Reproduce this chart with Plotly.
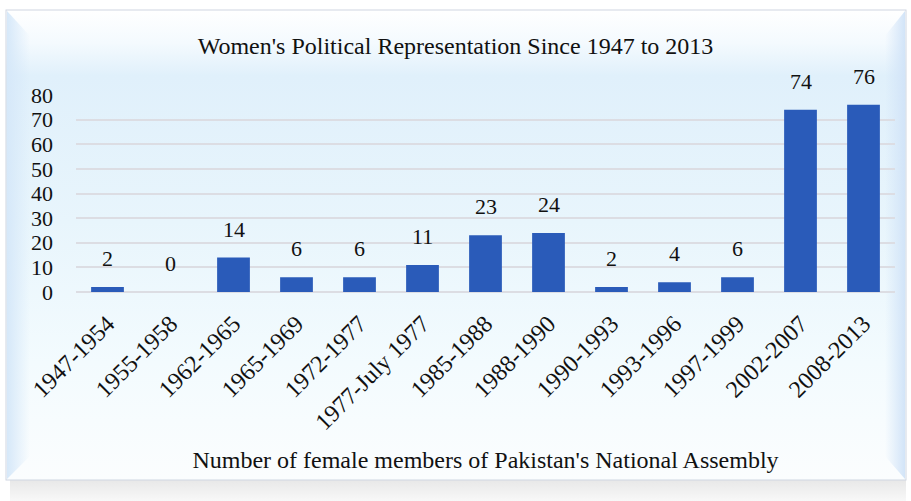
import base64
import plotly.graph_objects as go

categories = ["1947-1954", "1955-1958", "1962-1965", "1965-1969", "1972-1977",
              "1977-July 1977", "1985-1988", "1988-1990", "1990-1993", "1993-1996",
              "1997-1999", "2002-2007", "2008-2013"]
members = [2, 0, 14, 6, 6, 11, 23, 24, 2, 4, 6, 74, 76]
y_ticks = [0, 10, 20, 30, 40, 50, 60, 70, 80]

title_text = "Women's Political Representation Since 1947 to 2013"
x_title = "Number of female members of Pakistan's National Assembly"

W, H = 911, 501
ML, MR, MT, MB = 76, 16, 95, 209
PW, PH = W - ML - MR, H - MT - MB

svg = f'''<svg xmlns="http://www.w3.org/2000/svg" width="{W}" height="{H}" viewBox="0 0 {W} {H}" preserveAspectRatio="none">
<defs>
<linearGradient id="bg" x1="0" y1="0" x2="0" y2="1">
<stop offset="0" stop-color="#ffffff"/>
<stop offset="0.07" stop-color="#f4fafe"/>
<stop offset="0.14" stop-color="#e0f0fb"/>
<stop offset="0.45" stop-color="#e8f5fc"/>
<stop offset="0.75" stop-color="#f3fbfe"/>
<stop offset="1" stop-color="#fbfdfe"/>
</linearGradient>
<linearGradient id="lb" x1="0" y1="0" x2="1" y2="0">
<stop offset="0" stop-color="#d6e8f9"/>
<stop offset="1" stop-color="#d6e8f9" stop-opacity="0"/>
</linearGradient>
<linearGradient id="rb" x1="1" y1="0" x2="0" y2="0">
<stop offset="0" stop-color="#d2e4f8"/>
<stop offset="1" stop-color="#d2e4f8" stop-opacity="0"/>
</linearGradient>
<linearGradient id="sh" x1="0" y1="0" x2="0" y2="1">
<stop offset="0" stop-color="#e8e8e8"/>
<stop offset="1" stop-color="#f8f8f8"/>
</linearGradient>
</defs>
<rect x="0" y="0" width="{W}" height="{H}" fill="#ffffff"/>
<rect x="10" y="480" width="896" height="21" fill="url(#sh)"/>
<rect x="6" y="10" width="900" height="470" fill="url(#bg)" stroke="#cfd6e2" stroke-width="1"/>
<polygon points="7,11 30,36 30,456 7,479" fill="url(#lb)"/>
<polygon points="905,11 885,36 885,456 905,479" fill="url(#rb)"/>
</svg>'''
src = "data:image/svg+xml;base64," + base64.b64encode(svg.encode()).decode()

fig = go.Figure()
fig.add_trace(go.Bar(
    x=categories, y=members,
    marker=dict(color="#2a5bb9", line=dict(width=0)),
    width=0.52,
    hoverinfo="x+y",
))

serif = "Liberation Serif, Times New Roman, serif"
for c, v in zip(categories, members):
    fig.add_annotation(x=c, y=v, text=str(v), showarrow=False,
                       yanchor="bottom", yshift=14,
                       font=dict(family=serif, size=22, color="#111111"))

fig.update_layout(
    width=W, height=H,
    margin=dict(l=ML, r=MR, t=MT, b=MB, autoexpand=False),
    paper_bgcolor="#ffffff",
    plot_bgcolor="rgba(0,0,0,0)",
    showlegend=False,
    title=dict(text=title_text, x=0.5, xanchor="center", y=1 - 46 / H, yanchor="middle",
               font=dict(family=serif, size=24, color="#111111")),
    images=[dict(source=src, xref="paper", yref="paper",
                 x=-ML / PW, y=1 + MT / PH, sizex=W / PW, sizey=H / PH,
                 xanchor="left", yanchor="top", sizing="stretch", layer="below")],
    xaxis=dict(type="category", tickangle=-45, showgrid=False, showline=False,
               ticks="", ticklabelstandoff=12,
               tickfont=dict(family=serif, size=24, color="#111111"),
               title=dict(text=x_title, standoff=17,
                          font=dict(family=serif, size=24, color="#111111"))),
    yaxis=dict(range=[0, 80], tickvals=y_ticks, showgrid=True, gridcolor="#dcdde3",
               gridwidth=2, zeroline=True, zerolinecolor="#dcdde3", zerolinewidth=2,
               showline=False, ticks="", ticklabelstandoff=22,
               tickfont=dict(family=serif, size=22, color="#111111")),
    font=dict(family=serif),
)

fig.write_html("out.html", config={"displayModeBar": False},
               post_script="document.body.style.margin='0';")
